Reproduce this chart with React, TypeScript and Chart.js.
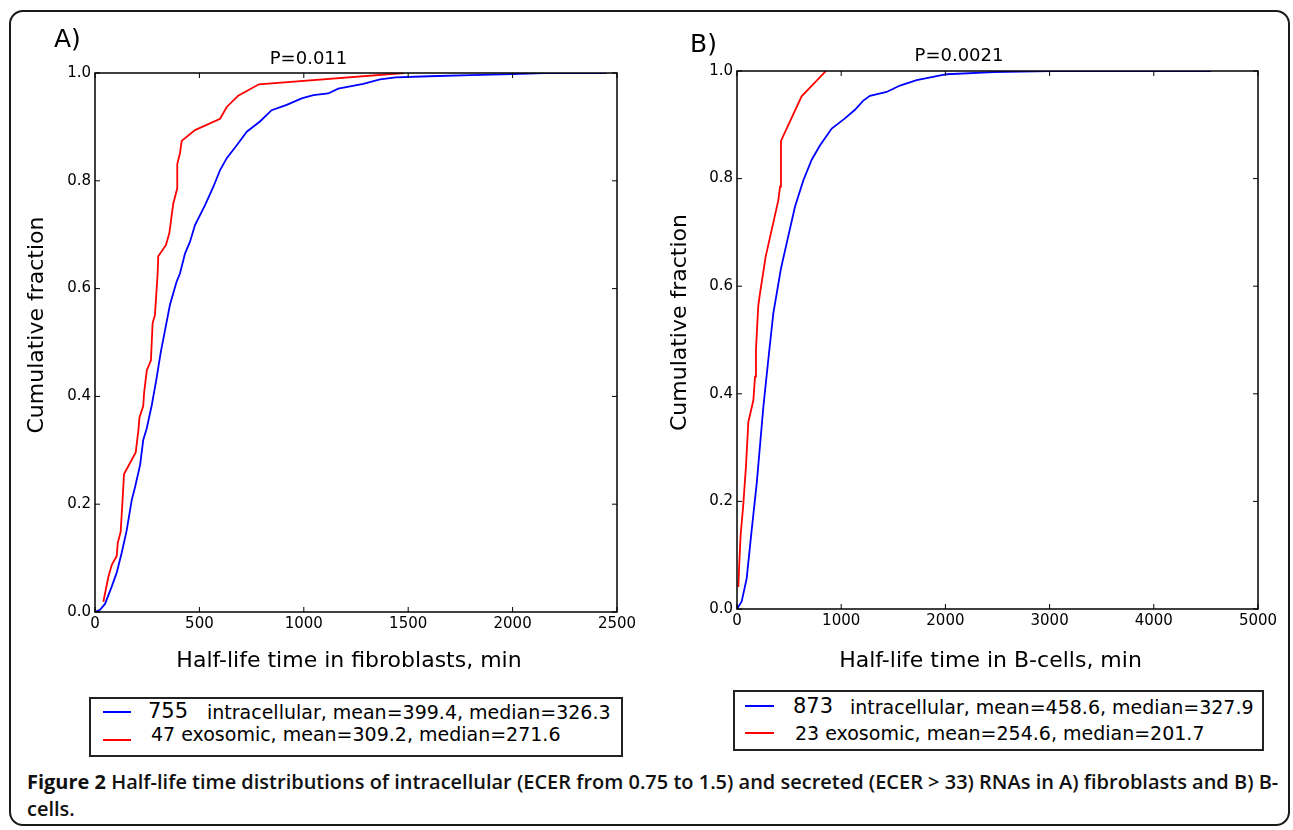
import React, { useEffect, useLayoutEffect, useRef } from "react";
import { Chart, registerables } from "chart.js";

Chart.register(...registerables);

const FONT = "'DejaVu Sans', sans-serif";
Chart.defaults.font.family = FONT;
Chart.defaults.color = "#000";

// ---------- Panel A (fibroblasts) ----------
const aTitle = "P=0.011";
const aXLabel = "Half-life time in fibroblasts, min  ";
const aXTicks = [0, 500, 1000, 1500, 2000, 2500];
const aIntraX = [0, 24, 48, 80, 104, 128, 152, 176, 192, 216, 231, 248, 272, 295, 315, 335, 359, 391, 407, 431, 455, 479, 527, 567, 599, 631, 679, 727, 790, 846, 918, 990, 1046, 1117, 1165, 1285, 1365, 1440, 1600, 1800, 2000, 2150, 2450];
const aIntraY = [0, 0.004, 0.015, 0.047, 0.073, 0.11, 0.152, 0.208, 0.232, 0.273, 0.319, 0.341, 0.384, 0.434, 0.482, 0.522, 0.57, 0.613, 0.628, 0.665, 0.687, 0.718, 0.755, 0.789, 0.82, 0.842, 0.866, 0.891, 0.91, 0.931, 0.941, 0.953, 0.959, 0.962, 0.971, 0.98, 0.988, 0.992, 0.994, 0.996, 0.998, 1.0, 1.0];
const aExoX = [40, 64, 80, 104, 109, 123, 132, 139, 195, 208, 213, 231, 235, 248, 268, 270, 276, 287, 300, 303, 340, 356, 375, 394, 394, 407, 415, 479, 599, 631, 686, 785, 1480];
const aExoY = [0.019, 0.065, 0.087, 0.104, 0.128, 0.149, 0.208, 0.256, 0.296, 0.338, 0.361, 0.382, 0.406, 0.448, 0.467, 0.486, 0.536, 0.551, 0.628, 0.66, 0.681, 0.703, 0.758, 0.786, 0.831, 0.851, 0.874, 0.894, 0.915, 0.937, 0.958, 0.979, 1.0];
const aLegendCount = ["755", "47"];
const aLegendText = ["intracellular, mean=399.4, median=326.3", "exosomic, mean=309.2, median=271.6"];

// ---------- Panel B (B-cells) ----------
const bTitle = "P=0.0021";
const bXLabel = "Half-life time in B-cells, min  ";
const bXTicks = [0, 1000, 2000, 3000, 4000, 5000];
const bIntraX = [0, 45, 93, 141, 189, 253, 310, 349, 422, 477, 557, 637, 717, 797, 909, 1036, 1132, 1212, 1276, 1436, 1564, 1724, 2012, 2460, 3000, 4550];
const bIntraY = [0, 0.014, 0.057, 0.147, 0.233, 0.376, 0.481, 0.55, 0.633, 0.68, 0.748, 0.797, 0.835, 0.862, 0.893, 0.912, 0.928, 0.945, 0.954, 0.961, 0.973, 0.983, 0.994, 0.998, 1.0, 1.0];
const bExoX = [13, 22, 35, 60, 86, 109, 157, 173, 182, 195, 205, 221, 275, 397, 413, 422, 620, 854];
const bExoY = [0.041, 0.085, 0.138, 0.193, 0.265, 0.348, 0.388, 0.432, 0.481, 0.531, 0.565, 0.587, 0.655, 0.76, 0.785, 0.87, 0.953, 1.0];
const bLegendCount = ["873", "23"];
const bLegendText = ["intracellular, mean=458.6, median=327.9", "exosomic, mean=254.6, median=201.7"];

const yTicks = [0, 0.2, 0.4, 0.6, 0.8, 1.0];
const yLabel = "     Cumulative fraction";
const caption1Bold = "Figure 2";
const caption1Rest = " Half-life time distributions of intracellular (ECER from 0.75 to 1.5) and secreted (ECER > 33) RNAs in A) fibroblasts and B) B-";
const caption2 = "cells.";

const BLUE = "#0000ff";
const RED = "#ff0000";

const framePlugin = {
  id: "mplFrame",
  afterDraw(chart: any) {
    const { ctx, chartArea } = chart;
    const { left, right, top, bottom } = chartArea;
    const xs = chart.scales.x;
    const ys = chart.scales.y;
    ctx.save();
    ctx.strokeStyle = "#000";
    ctx.lineWidth = 1.5;
    ctx.strokeRect(left, top, right - left, bottom - top);
    ctx.beginPath();
    xs.ticks.forEach((t: any) => {
      const px = xs.getPixelForValue(t.value);
      ctx.moveTo(px, bottom);
      ctx.lineTo(px, bottom - 5);
      ctx.moveTo(px, top);
      ctx.lineTo(px, top + 5);
    });
    ys.ticks.forEach((t: any) => {
      const py = ys.getPixelForValue(t.value);
      ctx.moveTo(left, py);
      ctx.lineTo(left + 5, py);
      ctx.moveTo(right, py);
      ctx.lineTo(right - 5, py);
    });
    ctx.lineWidth = 1;
    ctx.stroke();
    ctx.restore();
  },
};

type PanelCfg = {
  title: string;
  xLabel: string;
  xTicks: number[];
  intraX: number[];
  intraY: number[];
  exoX: number[];
  exoY: number[];
  padRight: number;
  yAxisW: number;
  xAxisH: number;
  titleTop: number;
  titleBottom: number;
  yTitlePad: number;
  xTitlePad: number;
};

function makeConfig(p: PanelCfg): any {
  const xMax = p.xTicks[p.xTicks.length - 1];
  return {
    type: "scatter",
    data: {
      datasets: [
        {
          label: "exo",
          data: p.exoX.map((x, i) => ({ x, y: p.exoY[i] })),
          borderColor: RED,
          backgroundColor: RED,
          showLine: true,
          pointRadius: 0,
          borderWidth: 1.8,
          tension: 0,
          order: 0,
        },
        {
          label: "intra",
          data: p.intraX.map((x, i) => ({ x, y: p.intraY[i] })),
          borderColor: BLUE,
          backgroundColor: BLUE,
          showLine: true,
          pointRadius: 0,
          borderWidth: 1.8,
          tension: 0,
          order: 1,
        },
      ],
    },
    options: {
      animation: false,
      responsive: false,
      maintainAspectRatio: false,
      events: [],
      layout: { padding: { left: 0, top: 0, right: p.padRight, bottom: 0 } },
      plugins: {
        legend: { display: false },
        tooltip: { enabled: false },
        title: {
          display: true,
          text: p.title,
          color: "#000",
          font: { family: FONT, size: 18, weight: "normal" },
          padding: { top: p.titleTop, bottom: p.titleBottom },
        },
      },
      scales: {
        x: {
          type: "linear",
          min: 0,
          max: xMax,
          afterBuildTicks: (s: any) => {
            s.ticks = p.xTicks.map((v) => ({ value: v }));
          },
          ticks: {
            color: "#000",
            font: { family: FONT, size: 15 },
            padding: 3,
            maxRotation: 0,
            autoSkip: false,
            callback: (v: any) => String(v),
          },
          grid: { display: false, drawTicks: false },
          border: { display: false },
          title: {
            display: true,
            text: p.xLabel,
            color: "#000",
            font: { family: FONT, size: 22 },
            padding: { top: 0, bottom: p.xTitlePad },
          },
          afterFit: (s: any) => {
            s.height = p.xAxisH;
          },
        },
        y: {
          type: "linear",
          min: 0,
          max: 1,
          afterBuildTicks: (s: any) => {
            s.ticks = yTicks.map((v) => ({ value: v }));
          },
          ticks: {
            color: "#000",
            font: { family: FONT, size: 15 },
            padding: 4,
            autoSkip: false,
            callback: (v: any) => Number(v).toFixed(1),
          },
          grid: { display: false, drawTicks: false },
          border: { display: false },
          title: {
            display: true,
            text: yLabel,
            color: "#000",
            font: { family: FONT, size: 22 },
            padding: { top: p.yTitlePad, bottom: 0 },
          },
          afterFit: (s: any) => {
            s.width = p.yAxisW;
          },
        },
      },
    },
    plugins: [framePlugin],
  };
}

function Panel(props: { cfg: PanelCfg; left: number; width: number; height: number }) {
  const ref = useRef<HTMLCanvasElement | null>(null);
  useEffect(() => {
    if (!ref.current) return;
    const chart = new Chart(ref.current, makeConfig(props.cfg));
    return () => chart.destroy();
  }, []);
  return (
    <canvas
      ref={ref}
      width={props.width}
      height={props.height}
      style={{ position: "absolute", left: props.left, top: 0, width: props.width, height: props.height }}
    />
  );
}

function Txt(props: { x: number; baseline: number; size: number; text: string; family?: string; weight?: number }) {
  const asc = 0.846;
  return (
    <span
      style={{
        position: "absolute",
        left: props.x,
        top: props.baseline - asc * props.size,
        fontFamily: props.family || FONT,
        fontSize: props.size,
        fontWeight: props.weight || 400,
        lineHeight: 1,
        whiteSpace: "pre",
        color: "#000",
      }}
    >
      {props.text}
    </span>
  );
}

function LegendBox(props: {
  box: [number, number, number, number];
  lineX: [number, number];
  lineY: [number, number];
  countX: [number, number];
  textX: [number, number];
  baselines: [number, number];
  counts: string[];
  texts: string[];
}) {
  const [bx, by, bw, bh] = props.box;
  return (
    <>
      <div
        style={{
          position: "absolute",
          left: bx,
          top: by,
          width: bw,
          height: bh,
          border: "2px solid #222",
          boxSizing: "border-box",
          background: "#fff",
        }}
      />
      {[BLUE, RED].map((c, i) => (
        <div
          key={c}
          style={{
            position: "absolute",
            left: props.lineX[0],
            top: props.lineY[i] - 1,
            width: props.lineX[1] - props.lineX[0],
            height: 2,
            background: c,
          }}
        />
      ))}
      <Txt x={props.countX[0]} baseline={props.baselines[0]} size={21} text={props.counts[0]} />
      <Txt x={props.textX[0]} baseline={props.baselines[0]} size={19} text={props.texts[0]} />
      <Txt x={props.countX[1]} baseline={props.baselines[1]} size={19} text={props.counts[1] + " " + props.texts[1]} />
    </>
  );
}

const panelA: PanelCfg = {
  title: aTitle,
  xLabel: aXLabel,
  xTicks: aXTicks,
  intraX: aIntraX,
  intraY: aIntraY,
  exoX: aExoX,
  exoY: aExoY,
  padRight: 43,
  yAxisW: 95,
  xAxisH: 78,
  titleTop: 49,
  titleBottom: 2.4,
  yTitlePad: 24,
  xTitlePad: 16,
};

const panelB: PanelCfg = {
  title: bTitle,
  xLabel: bXLabel,
  xTicks: bXTicks,
  intraX: bIntraX,
  intraY: bIntraY,
  exoX: bExoX,
  exoY: bExoY,
  padRight: 35,
  yAxisW: 77,
  xAxisH: 81,
  titleTop: 46,
  titleBottom: 3.4,
  yTitlePad: 7,
  xTitlePad: 16,
};

export default function App() {
  const cap1 = useRef<HTMLDivElement | null>(null);
  const cap2 = useRef<HTMLDivElement | null>(null);
  useLayoutEffect(() => {
    if (!cap1.current || !cap2.current) return;
    const w = cap1.current.scrollWidth;
    const s = w > 0 ? 1251 / w : 1;
    cap1.current.style.transform = `scaleX(${s})`;
    cap2.current.style.transform = `scaleX(${s})`;
  }, []);
  const capFont = "'Open Sans', sans-serif";
  const capSize = 20;
  const capAsc = 0.888;
  return (
    <div style={{ position: "absolute", left: 0, top: 0, width: 1293, height: 830, background: "#fff", overflow: "hidden" }}>
      <div
        style={{
          position: "absolute",
          left: 9,
          top: 10,
          width: 1281,
          height: 816,
          border: "2px solid #1a1a1a",
          borderRadius: 14,
          boxSizing: "border-box",
        }}
      />
      <Panel cfg={panelA} left={0} width={660} height={690} />
      <Panel cfg={panelB} left={660} width={633} height={690} />
      <Txt x={54} baseline={47} size={25} text="A)" />
      <Txt x={690} baseline={52} size={25} text="B)" />
      <LegendBox
        box={[89, 697, 534, 60]}
        lineX={[103, 131]}
        lineY={[711.5, 740]}
        countX={[148, 151]}
        textX={[207, 207]}
        baselines={[719, 741]}
        counts={aLegendCount}
        texts={aLegendText}
      />
      <LegendBox
        box={[733, 690, 531, 61]}
        lineX={[745, 774]}
        lineY={[706, 733.3]}
        countX={[793, 795]}
        textX={[850, 850]}
        baselines={[714, 740]}
        counts={bLegendCount}
        texts={bLegendText}
      />
      <div
        ref={cap1}
        style={{
          position: "absolute",
          left: 26.5,
          top: 790 - capAsc * capSize,
          fontFamily: capFont,
          fontSize: capSize,
          lineHeight: 1,
          whiteSpace: "pre",
          transformOrigin: "0 0",
          color: "#111",
          fontWeight: 600,
        }}
      >
        <span style={{ fontWeight: 700 }}>{caption1Bold}</span>
        {caption1Rest}
      </div>
      <div
        ref={cap2}
        style={{
          position: "absolute",
          left: 26.5,
          top: 817 - capAsc * capSize,
          fontFamily: capFont,
          fontSize: capSize,
          lineHeight: 1,
          whiteSpace: "pre",
          transformOrigin: "0 0",
          color: "#111",
          fontWeight: 600,
        }}
      >
        {caption2}
      </div>
    </div>
  );
}
